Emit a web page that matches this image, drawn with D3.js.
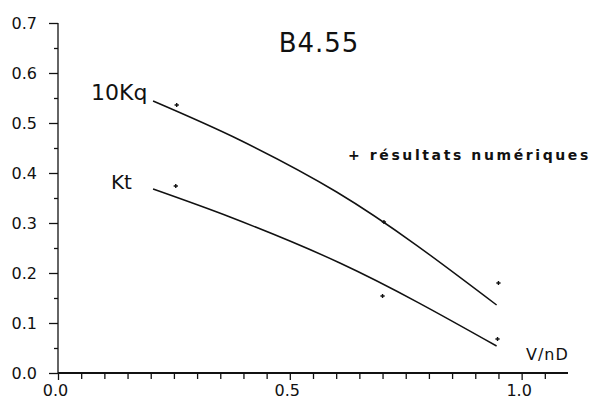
<!DOCTYPE html>
<html>
<head>
<meta charset="utf-8">
<script src="https://cdn.jsdelivr.net/npm/d3@7"></script>
<style>
body { margin:0; background:#fff; }
text { font-family: "DejaVu Sans", sans-serif; fill:#111; }
</style>
</head>
<body>
<div id="main"></div>
<script>
// courbes
const kqX = [0.205, 0.392, 0.601, 0.946]
const kqY = [0.544, 0.466, 0.362, 0.136]
const ktX = [0.205, 0.371, 0.608, 0.946]
const ktY = [0.368, 0.312, 0.22, 0.054]

// résultats numériques (+)
const ptKqX = [0.256, 0.703, 0.95]
const ptKqY = [0.536, 0.302, 0.18]
const ptKtX = [0.254, 0.70, 0.948]
const ptKtY = [0.374, 0.154, 0.068]

const yTicks = [0, 0.1, 0.2, 0.3, 0.4, 0.5, 0.6, 0.7]
const xTicks = [0, 0.5, 1.0]

const W = 593, H = 407

let svg = d3.select("#main").append("svg").attr("width", W).attr("height", H)

let x = d3.scaleLinear().domain([0, 1.1]).range([58, 568])
let y = d3.scaleLinear().domain([0, 0.7]).range([373, 23])

// axe y
let yAxis = d3.axisLeft(y).tickValues(yTicks).tickFormat(d3.format(".1f")).tickSize(9).tickPadding(12)
let gy = svg.append("g").attr("transform", "translate(58,0)").call(yAxis)
gy.select(".domain").attr("stroke", "#111").attr("stroke-width", 1.3).attr("d", "M0," + y(0) + "V" + y(0.7))
gy.selectAll("text").style("font-size", "16px").attr("fill", "#111")
gy.selectAll("line").attr("stroke", "#111").attr("stroke-width", 1.3)
let gy2 = svg.append("g").attr("transform", "translate(58,0)")
  .call(d3.axisLeft(y).tickValues(d3.range(0.05, 0.7, 0.1)).tickSize(4).tickFormat(""))
gy2.select(".domain").remove()
gy2.selectAll("line").attr("stroke", "#111").attr("stroke-width", 1.3)

// axe x
let xAxis = d3.axisBottom(x).tickValues(xTicks).tickFormat(d3.format(".1f")).tickSize(7).tickPadding(5)
let gx = svg.append("g").attr("transform", "translate(0,373)").call(xAxis)
gx.select(".domain").attr("stroke", "#111").attr("stroke-width", 2).attr("d", "M" + x(0) + ",0H" + x(1.1))
gx.selectAll("text").style("font-size", "16px").attr("fill", "#111").attr("dx", -3)
gx.selectAll("line").attr("stroke", "#111").attr("stroke-width", 1.3)
let gx2 = svg.append("g").attr("transform", "translate(0,373)")
  .call(d3.axisBottom(x).tickValues(d3.range(0.05, 1.1, 0.05).filter(v => Math.abs(v - 0.5) > 0.01 && Math.abs(v - 1) > 0.01)).tickSize(6).tickFormat(""))
gx2.select(".domain").remove()
gx2.selectAll("line").attr("stroke", "#111").attr("stroke-width", 1.3)

// courbes
let line = d3.line().x(d => x(d[0])).y(d => y(d[1])).curve(d3.curveMonotoneX)
svg.append("path").datum(d3.zip(kqX, kqY)).attr("d", line)
  .attr("fill", "none").attr("stroke", "#111").attr("stroke-width", 1.5)
svg.append("path").datum(d3.zip(ktX, ktY)).attr("d", line)
  .attr("fill", "none").attr("stroke", "#111").attr("stroke-width", 1.5)

// points +
let pts = d3.zip(ptKqX, ptKqY).concat(d3.zip(ptKtX, ptKtY))
svg.selectAll(".pt").data(pts).enter().append("path")
  .attr("class", "pt")
  .attr("d", d3.symbol().type(d3.symbolCross).size(10))
  .attr("transform", d => "translate(" + x(d[0]) + "," + y(d[1]) + ")")
  .attr("fill", "#111")

// textes
svg.append("text").text("B4.55").attr("x", 319).attr("y", 52)
  .attr("text-anchor", "middle").style("font-size", "26px").style("letter-spacing", "1px")
svg.append("text").text("10Kq").attr("x", 91).attr("y", 100).style("font-size", "22px")
svg.append("text").text("Kt").attr("x", 111).attr("y", 189).style("font-size", "20px")
svg.append("text").text("+ résultats numériques").attr("x", 348).attr("y", 160)
  .style("font-size", "14px").style("font-weight", "bold").style("letter-spacing", "2.6px")
svg.append("text").text("V/nD").attr("x", 526).attr("y", 360).style("font-size", "16px").style("letter-spacing", "1px")
</script>
</body>
</html>
